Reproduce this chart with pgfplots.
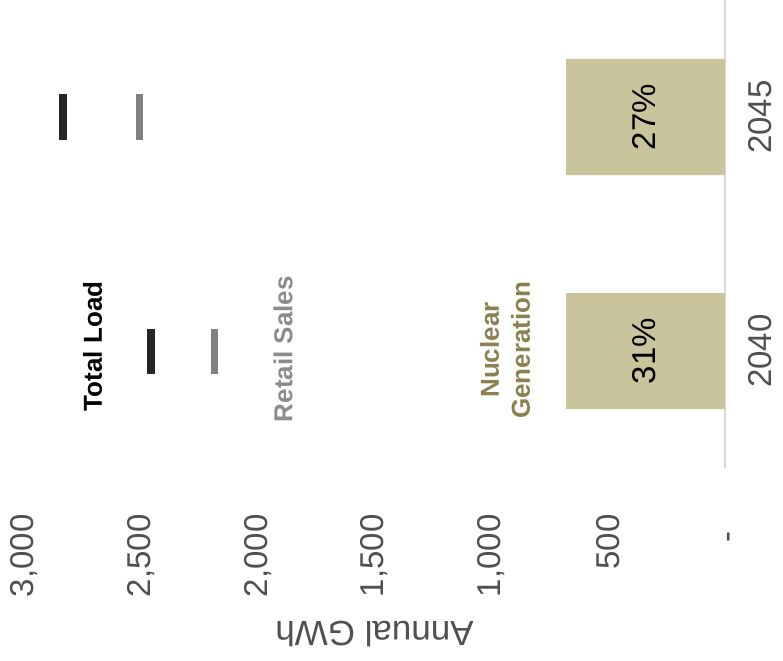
\documentclass[border=0pt]{standalone}
\usepackage{pgfplots}
\pgfplotsset{compat=1.18}
\usepackage{fontspec}
\setmainfont{Liberation Sans}
\definecolor{nucfill}{RGB}{201,196,156}
\definecolor{nuctext}{RGB}{140,127,80}
\definecolor{ticktext}{RGB}{80,80,80}
\definecolor{loadmark}{RGB}{38,38,38}
\definecolor{retailmark}{RGB}{128,128,128}
\definecolor{retailtext}{RGB}{140,140,140}
\definecolor{axisgray}{RGB}{217,217,217}
\begin{document}
\begin{tikzpicture}
\begin{axis}[
  scale only axis,
  width=701pt, height=468pt,
  xmin=0, xmax=3000, ymin=-0.5, ymax=1.5,
  x dir=reverse,
  clip=false,
  axis line style={draw=none},
  major tick length=0pt,
  tick style={draw=none},
  xtick={500,1000,1500,2000,2500,3000},
  xticklabels={500,{1,000},{1,500},{2,000},{2,500},{3,000}},
  xticklabel style={rotate=90, anchor=east, xshift=-43pt, text=ticktext,
    font=\fontsize{33}{38}\selectfont},
  extra x ticks={0},
  extra x tick labels={-},
  extra x tick style={xticklabel style={xshift=-17pt, yshift=-7pt}},
  ytick={0,1},
  yticklabels={2040,2045},
  yticklabel pos=right,
  yticklabel style={rotate=90, anchor=north, yshift=-20pt, text=ticktext,
    font=\fontsize{33}{38}\selectfont},
  xlabel={Annual GWh},
  xlabel style={rotate=180, at={(axis description cs:0.5,-0.354)}, anchor=center,
    text=ticktext, font=\fontsize{35}{40}\selectfont},
]
\draw[axisgray, line width=2pt] (axis cs:0,-0.5) -- (axis cs:0,1.5);
% Nuclear generation bars
\addplot[xbar, bar width=116pt, fill=nucfill, draw=none] coordinates {(680,0) (680,1)};
% Total load markers
\addplot[only marks, mark=|, mark size=22.5pt, mark options={line width=8pt, draw=loadmark}] coordinates {(2455,0) (2835,1)};
% Retail sales markers
\addplot[only marks, mark=|, mark size=22.5pt, mark options={line width=7pt, draw=retailmark}] coordinates {(2185,0) (2505,1)};
% labels
\node[rotate=90, font=\fontsize{33}{38}\selectfont] at (axis cs:345,0) {31\%};
\node[rotate=90, font=\fontsize{33}{38}\selectfont] at (axis cs:345,1) {27\%};
\node[rotate=90, font=\bfseries\fontsize{26}{30}\selectfont] at (axis cs:2706,0.02) {Total Load};
\node[rotate=90, text=retailtext, font=\bfseries\fontsize{26}{30}\selectfont] at (axis cs:1891,0.008) {Retail Sales};
\node[rotate=90, text=nuctext, align=center, font=\bfseries\fontsize{26}{31}\selectfont] at (axis cs:941,0.004) {Nuclear\\Generation};
\coordinate (BL) at (axis cs:3102.7,-1.3205);
\coordinate (TR) at (axis cs:-248.2,1.5);
\end{axis}
\pgfresetboundingbox
\path[use as bounding box] (BL) rectangle (TR);
\end{tikzpicture}
\end{document}
